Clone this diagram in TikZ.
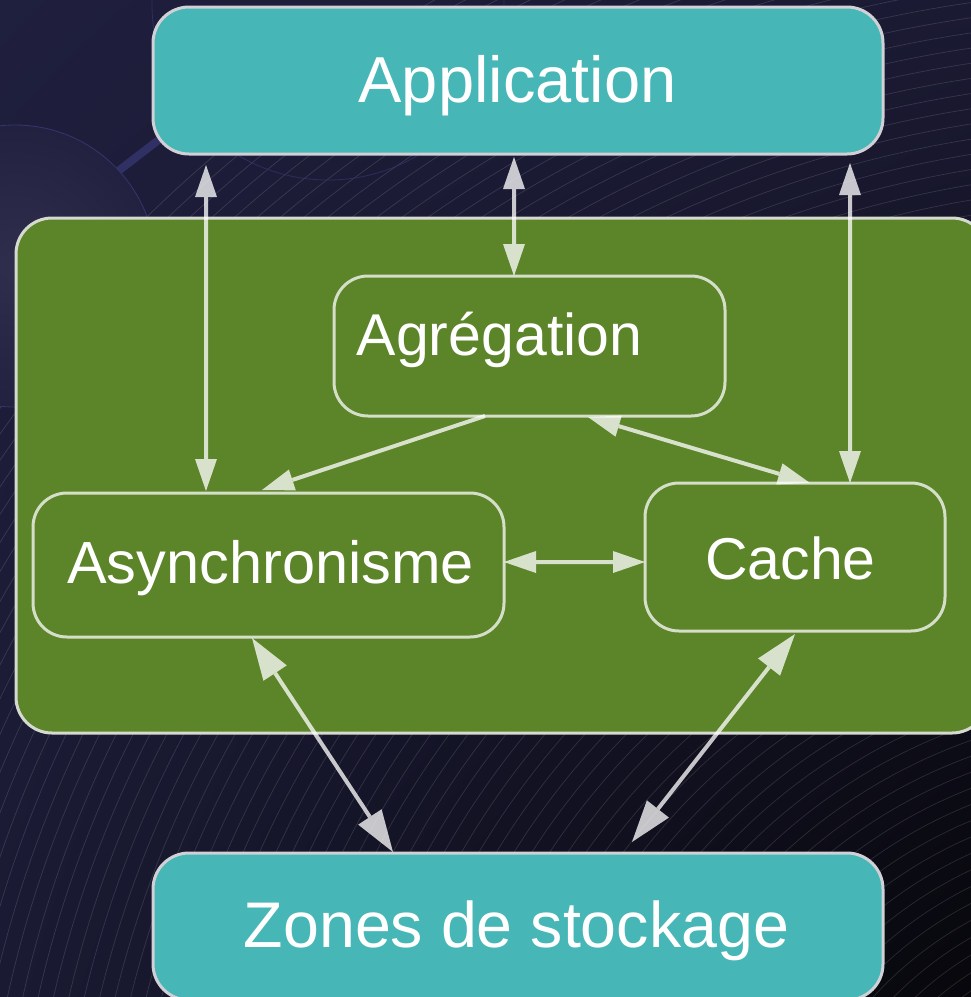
\documentclass[tikz,border=0pt]{standalone}
\usepackage{fontspec}
\setmainfont{Liberation Sans}
\usetikzlibrary{arrows.meta,shadings}

\definecolor{bgTL}{HTML}{1F1F3E}
\definecolor{bgTR}{HTML}{1B1A33}
\definecolor{bgBL}{HTML}{1A1A33}
\definecolor{bgBR}{HTML}{07070C}
\definecolor{tealFill}{HTML}{46B7B6}
\definecolor{tealEdge}{HTML}{D0D0D6}
\definecolor{leafFill}{HTML}{5C8428}
\definecolor{leafEdge}{HTML}{D5DEC8}
\definecolor{groupEdge}{HTML}{D6D9D0}
\definecolor{orbIn}{HTML}{2F2E4C}
\definecolor{orbOut}{HTML}{22213F}
\definecolor{orbRim}{HTML}{35356F}

\tikzset{
  boxbase/.style={rectangle, outer sep=0pt, inner sep=0pt, line width=3pt},
  tealbox/.style={boxbase, fill=tealFill, draw=tealEdge, rounded corners=36pt},
  leafbox/.style={boxbase, fill=leafFill, draw=leafEdge, rounded corners=34pt},
  groupbox/.style={boxbase, fill=leafFill, draw=groupEdge, rounded corners=36pt},
  lbl/.style={text=white, inner sep=0pt, outer sep=0pt, anchor=base},
  link/.style={draw=white, line width=4pt},
  tipS/.tip={Triangle[length=32pt, width=22pt, line width=0pt]},
  tipL/.tip={Triangle[length=42pt, width=28pt, line width=0pt]},
}

\begin{document}
\begin{tikzpicture}[x=1pt, y=-1pt]
\useasboundingbox (0,0) rectangle (971,997);
\clip (0,0) rectangle (971,997);

% backdrop
\shade[upper left=bgTL, upper right=bgTR, lower left=bgBL, lower right=bgBR]
  (0,0) rectangle (971,997);

% faint concentric rings
\foreach \r in {150,165,...,1450}
  \draw[white, opacity=0.13, line width=0.7pt] (1150,1250) circle[radius=\r];

% decorative orb on the left and its spoke
\draw[orbRim, line width=8pt, opacity=0.8] (117,172) -- (200,108);
\shade[inner color=orbIn, outer color=orbOut] (15,266) circle[radius=141];
\draw[orbRim, line width=0.8pt] (15,266) circle[radius=141];
\draw[orbRim, line width=0.8pt, opacity=0.7] (328,4) circle[radius=176];

% boxes
\node[groupbox, minimum width=972pt, minimum height=515pt] (grp) at (502,475.5) {};
\node[tealbox, minimum width=730pt, minimum height=147pt] (app) at (518,80.5) {};
\node[tealbox, minimum width=730pt, minimum height=147pt] (zones) at (518,926.5) {};
\node[leafbox, minimum width=391pt, minimum height=140pt] (agr) at (529.5,346) {};
\node[leafbox, minimum width=471pt, minimum height=144pt] (async) at (268.5,565) {};
\node[leafbox, minimum width=300pt, minimum height=148pt] (cache) at (795,557) {};

% labels
\node[lbl, font=\fontsize{65pt}{70pt}\selectfont] (appT) at (517.5,102) {Application};
\node[lbl, font=\fontsize{59pt}{64pt}\selectfont] (agrT) at (499.5,355) {Agrégation};
\node[lbl, font=\fontsize{59.5pt}{64pt}\selectfont] (asyncT) at (270.5,583) {Asynchronisme};
\node[lbl, font=\fontsize{59pt}{64pt}\selectfont] (cacheT) at (790.5,579) {Cache};
\node[lbl, font=\fontsize{64.5pt}{70pt}\selectfont] (zonesT) at (516.5,947) {Zones de stockage};

% connectors, translucent so they tint with what lies beneath
\begin{scope}[transparency group, opacity=0.76]
\draw[link, {tipS}-{tipS}] ([xshift=-312pt, yshift=-11pt]app.south) -- ([xshift=-62.5pt, yshift=2pt]async.north);
\draw[link, {tipS}-{tipS}] ([xshift=-4pt, yshift=-3pt]app.south) -- ([xshift=-15.5pt]agr.north);
\draw[link, {tipS}-{tipS}] ([xshift=332pt, yshift=-9pt]app.south) -- ([xshift=55pt]cache.north);
\draw[link, -{tipS}] ([xshift=-44.5pt]agr.south) -- ([xshift=-6.5pt, yshift=3pt]async.north);
\draw[link, {tipS}-{tipS}] ([xshift=58.5pt, yshift=-1pt]agr.south) -- ([xshift=15pt]cache.north);
\draw[link, {tipS}-{tipS}] ([yshift=3pt]async.east) -- ([yshift=-5pt]cache.west);
\draw[link, {tipL}-{tipL}] ([xshift=-16.5pt, yshift=-1pt]async.south) -- ([xshift=-125pt, yshift=1pt]zones.north);
\draw[link, {tipL}-{tipL}] ([yshift=-3pt]cache.south) -- ([xshift=114pt, yshift=11pt]zones.north);
\end{scope}
\end{tikzpicture}
\end{document}
